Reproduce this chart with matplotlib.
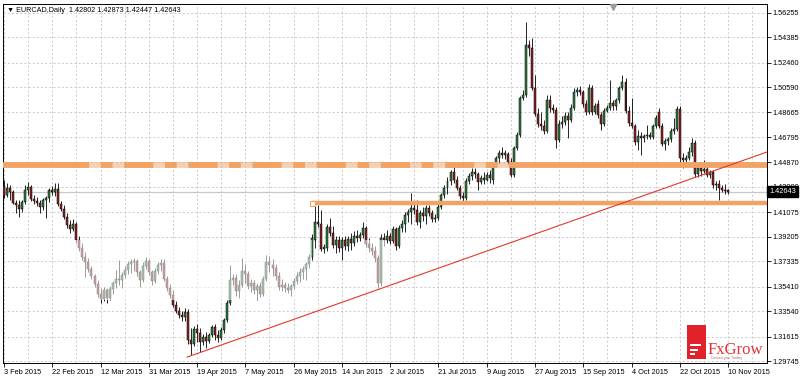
import numpy as np
import matplotlib
matplotlib.use("Agg")
import matplotlib.pyplot as plt
from matplotlib.ticker import MultipleLocator, FixedLocator
from matplotlib.patches import Rectangle

plt.rcParams["font.family"] = ["Liberation Sans", "DejaVu Sans"]

# EURCAD daily bars, 3 Feb 2015 .. 10 Nov 2015
opens = [
    1.4306, 1.4238, 1.4291, 1.4261, 1.4177, 1.4162, 1.4132, 1.4185, 1.4276, 1.4299,
    1.4208, 1.4192, 1.4177, 1.4147, 1.4200, 1.4215, 1.4276, 1.4261, 1.4284, 1.4170,
    1.4132, 1.4071, 1.4010, 1.3980, 1.4018, 1.3896, 1.3835, 1.3767, 1.3728, 1.3675,
    1.3621, 1.3561, 1.3485, 1.3447, 1.3515, 1.3454, 1.3523, 1.3568, 1.3599, 1.3591,
    1.3629, 1.3667, 1.3713, 1.3728, 1.3736, 1.3652, 1.3591, 1.3697, 1.3736, 1.3652,
    1.3583, 1.3659, 1.3705, 1.3721, 1.3599, 1.3530, 1.3477, 1.3401, 1.3355, 1.3325,
    1.3310, 1.3348, 1.3135, 1.3105, 1.3218, 1.3188, 1.3120, 1.3158, 1.3127, 1.3173,
    1.3234, 1.3173, 1.3150, 1.3211, 1.3287, 1.3416, 1.3591, 1.3606, 1.3507, 1.3553,
    1.3659, 1.3637, 1.3545, 1.3568, 1.3515, 1.3545, 1.3485, 1.3599, 1.3728, 1.3705,
    1.3682, 1.3621, 1.3538, 1.3553, 1.3530, 1.3515, 1.3545, 1.3583, 1.3621, 1.3652,
    1.3675, 1.3713, 1.3767, 1.3896, 1.4033, 1.4018, 1.3828, 1.3835, 1.3995, 1.3949,
    1.3858, 1.3896, 1.3835, 1.3896, 1.3850, 1.3903, 1.3873, 1.3926, 1.3911, 1.3934,
    1.3987, 1.3866, 1.3835, 1.3812, 1.3759, 1.3568, 1.3911, 1.3896, 1.3926, 1.3888,
    1.3980, 1.3850, 1.3987, 1.4018, 1.4086, 1.4109, 1.4139, 1.4124, 1.4033, 1.4101,
    1.4078, 1.4139, 1.4101, 1.4056, 1.4063, 1.4147, 1.4238, 1.4291, 1.4344, 1.4413,
    1.4352, 1.4291, 1.4230, 1.4215, 1.4344, 1.4382, 1.4413, 1.4398, 1.4337, 1.4367,
    1.4352, 1.4390, 1.4352, 1.4466, 1.4520, 1.4558, 1.4543, 1.4550, 1.4489, 1.4390,
    1.4596, 1.4695, 1.4976, 1.4999, 1.5380, 1.5357, 1.5052, 1.4855, 1.4779, 1.4763,
    1.4726, 1.4961, 1.4900, 1.4885, 1.4657, 1.4779, 1.4794, 1.4839, 1.4809, 1.4900,
    1.5022, 1.5037, 1.5022, 1.4931, 1.4870, 1.5052, 1.4870, 1.4931, 1.4847, 1.4779,
    1.4877, 1.4900, 1.4938, 1.4915, 1.4961, 1.5052, 1.5098, 1.4877, 1.4786, 1.4763,
    1.4642, 1.4687, 1.4672, 1.4687, 1.4695, 1.4680, 1.4763, 1.4870, 1.4763, 1.4626,
    1.4649, 1.4664, 1.4725, 1.4740, 1.4893, 1.4520, 1.4504, 1.4520, 1.4566, 1.4634,
    1.4398, 1.4443, 1.4420, 1.4436, 1.4390, 1.4413, 1.4314, 1.4322, 1.4291, 1.4276,
    1.42802,
]
highs = [
    1.4352, 1.4329, 1.4314, 1.4276, 1.4200, 1.4200, 1.4200, 1.4314, 1.4337, 1.4314,
    1.4238, 1.4223, 1.4200, 1.4215, 1.4230, 1.4291, 1.4306, 1.4329, 1.4329, 1.4192,
    1.4162, 1.4101, 1.4048, 1.4056, 1.4033, 1.3926, 1.3873, 1.3805, 1.3759, 1.3697,
    1.3637, 1.3591, 1.3530, 1.3538, 1.3530, 1.3545, 1.3583, 1.3667, 1.3743, 1.3652,
    1.3697, 1.3736, 1.3751, 1.3759, 1.3751, 1.3667, 1.3728, 1.3767, 1.3751, 1.3667,
    1.3682, 1.3728, 1.3751, 1.3751, 1.3621, 1.3561, 1.3515, 1.3431, 1.3386, 1.3355,
    1.3378, 1.3371, 1.3226, 1.3241, 1.3257, 1.3226, 1.3181, 1.3196, 1.3188, 1.3249,
    1.3257, 1.3211, 1.3234, 1.3302, 1.3439, 1.3705, 1.3637, 1.3637, 1.3591, 1.3759,
    1.3713, 1.3659, 1.3599, 1.3591, 1.3568, 1.3576, 1.3621, 1.3782, 1.3774, 1.3751,
    1.3713, 1.3652, 1.3599, 1.3576, 1.3568, 1.3561, 1.3606, 1.3652, 1.3682, 1.3697,
    1.3728, 1.3790, 1.3942, 1.4177, 1.4162, 1.4124, 1.3866, 1.4018, 1.4063, 1.4002,
    1.3926, 1.3926, 1.3918, 1.3926, 1.3926, 1.3949, 1.3964, 1.3972, 1.3957, 1.4033,
    1.4002, 1.3911, 1.3873, 1.3850, 1.3782, 1.3942, 1.3949, 1.3972, 1.3949, 1.4002,
    1.3995, 1.4010, 1.4048, 1.4109, 1.4132, 1.4253, 1.4177, 1.4200, 1.4124, 1.4147,
    1.4162, 1.4162, 1.4124, 1.4094, 1.4170, 1.4253, 1.4314, 1.4375, 1.4428, 1.4466,
    1.4382, 1.4314, 1.4261, 1.4367, 1.4405, 1.4443, 1.4443, 1.4413, 1.4390, 1.4413,
    1.4413, 1.4428, 1.4489, 1.4535, 1.4581, 1.4604, 1.4581, 1.4566, 1.4520, 1.4611,
    1.4718, 1.4991, 1.5037, 1.5555, 1.5418, 1.5433, 1.5151, 1.4900, 1.4870, 1.4809,
    1.4999, 1.4999, 1.4931, 1.4908, 1.4809, 1.4839, 1.4870, 1.4870, 1.4931, 1.5052,
    1.5060, 1.5067, 1.5037, 1.4961, 1.5082, 1.5075, 1.4938, 1.4961, 1.4870, 1.4900,
    1.4923, 1.5113, 1.4961, 1.4976, 1.5067, 1.5151, 1.5128, 1.4915, 1.4976, 1.4779,
    1.4733, 1.4718, 1.4703, 1.4771, 1.4718, 1.4779, 1.4847, 1.4900, 1.4786, 1.4672,
    1.4680, 1.4748, 1.4824, 1.4915, 1.4915, 1.4558, 1.4543, 1.4604, 1.4672, 1.4657,
    1.4474, 1.4466, 1.4504, 1.4466, 1.4428, 1.4428, 1.4344, 1.4352, 1.4314, 1.4322,
    1.42873,
]
lows = [
    1.4215, 1.4223, 1.4200, 1.4170, 1.4101, 1.4071, 1.4109, 1.4170, 1.4238, 1.4192,
    1.4170, 1.4154, 1.4101, 1.4124, 1.4063, 1.4185, 1.4238, 1.4230, 1.4154, 1.4116,
    1.4056, 1.3987, 1.3949, 1.3964, 1.3873, 1.3812, 1.3743, 1.3614, 1.3652, 1.3599,
    1.3538, 1.3462, 1.3416, 1.3431, 1.3416, 1.3439, 1.3485, 1.3530, 1.3553, 1.3530,
    1.3606, 1.3637, 1.3644, 1.3659, 1.3621, 1.3538, 1.3576, 1.3675, 1.3629, 1.3553,
    1.3568, 1.3637, 1.3659, 1.3583, 1.3507, 1.3454, 1.3386, 1.3340, 1.3302, 1.3279,
    1.3279, 1.3105, 1.3020, 1.3090, 1.3120, 1.3043, 1.3097, 1.3074, 1.3112, 1.3158,
    1.3135, 1.3120, 1.3135, 1.3188, 1.3272, 1.3401, 1.3553, 1.3469, 1.3454, 1.3538,
    1.3568, 1.3523, 1.3500, 1.3485, 1.3439, 1.3462, 1.3469, 1.3583, 1.3652, 1.3621,
    1.3591, 1.3515, 1.3507, 1.3500, 1.3492, 1.3469, 1.3523, 1.3561, 1.3576, 1.3599,
    1.3591, 1.3682, 1.3743, 1.3835, 1.3995, 1.3812, 1.3797, 1.3812, 1.3926, 1.3835,
    1.3797, 1.3805, 1.3743, 1.3820, 1.3812, 1.3820, 1.3850, 1.3880, 1.3888, 1.3911,
    1.3843, 1.3805, 1.3782, 1.3728, 1.3530, 1.3545, 1.3850, 1.3873, 1.3866, 1.3873,
    1.3820, 1.3835, 1.3957, 1.3957, 1.4033, 1.4018, 1.4094, 1.4010, 1.3987, 1.4040,
    1.4018, 1.4078, 1.4033, 1.4033, 1.4048, 1.4132, 1.4215, 1.4246, 1.4314, 1.4329,
    1.4276, 1.4208, 1.4177, 1.4200, 1.4322, 1.4352, 1.4367, 1.4276, 1.4322, 1.4322,
    1.4344, 1.4329, 1.4322, 1.4451, 1.4482, 1.4520, 1.4512, 1.4474, 1.4375, 1.4375,
    1.4581, 1.4680, 1.4961, 1.4984, 1.5296, 1.5037, 1.4839, 1.4756, 1.4733, 1.4703,
    1.4710, 1.4870, 1.4862, 1.4596, 1.4642, 1.4748, 1.4771, 1.4672, 1.4794, 1.4885,
    1.4991, 1.4999, 1.4908, 1.4847, 1.4855, 1.4847, 1.4855, 1.4824, 1.4733, 1.4763,
    1.4870, 1.4885, 1.4885, 1.4885, 1.4938, 1.5037, 1.4862, 1.4763, 1.4748, 1.4619,
    1.4581, 1.4543, 1.4642, 1.4664, 1.4664, 1.4664, 1.4748, 1.4748, 1.4611, 1.4581,
    1.4619, 1.4642, 1.4703, 1.4725, 1.4482, 1.4443, 1.4482, 1.4504, 1.4535, 1.4375,
    1.4375, 1.4382, 1.4405, 1.4375, 1.4367, 1.4291, 1.4276, 1.4200, 1.4261, 1.4246,
    1.42447,
]
closes = [
    1.4230, 1.4291, 1.4261, 1.4177, 1.4162, 1.4132, 1.4185, 1.4276, 1.4299, 1.4208,
    1.4192, 1.4177, 1.4147, 1.4200, 1.4215, 1.4276, 1.4261, 1.4284, 1.4170, 1.4132,
    1.4071, 1.4010, 1.3980, 1.4018, 1.3896, 1.3835, 1.3767, 1.3728, 1.3675, 1.3621,
    1.3561, 1.3485, 1.3447, 1.3515, 1.3454, 1.3523, 1.3568, 1.3599, 1.3591, 1.3629,
    1.3667, 1.3713, 1.3728, 1.3736, 1.3652, 1.3591, 1.3697, 1.3736, 1.3652, 1.3583,
    1.3659, 1.3705, 1.3721, 1.3599, 1.3530, 1.3477, 1.3401, 1.3355, 1.3325, 1.3310,
    1.3348, 1.3135, 1.3105, 1.3218, 1.3188, 1.3120, 1.3158, 1.3127, 1.3173, 1.3234,
    1.3173, 1.3150, 1.3211, 1.3287, 1.3416, 1.3591, 1.3606, 1.3507, 1.3553, 1.3659,
    1.3637, 1.3545, 1.3568, 1.3515, 1.3545, 1.3485, 1.3599, 1.3728, 1.3705, 1.3682,
    1.3621, 1.3538, 1.3553, 1.3530, 1.3515, 1.3545, 1.3583, 1.3621, 1.3652, 1.3675,
    1.3713, 1.3767, 1.3911, 1.4033, 1.4018, 1.3828, 1.3843, 1.3995, 1.3949, 1.3858,
    1.3896, 1.3835, 1.3896, 1.3850, 1.3903, 1.3873, 1.3926, 1.3911, 1.3934, 1.3987,
    1.3866, 1.3835, 1.3812, 1.3759, 1.3568, 1.3911, 1.3896, 1.3926, 1.3888, 1.3980,
    1.3850, 1.3987, 1.4018, 1.4086, 1.4109, 1.4139, 1.4124, 1.4033, 1.4101, 1.4078,
    1.4139, 1.4101, 1.4056, 1.4063, 1.4147, 1.4238, 1.4291, 1.4344, 1.4413, 1.4352,
    1.4291, 1.4230, 1.4215, 1.4344, 1.4382, 1.4413, 1.4398, 1.4337, 1.4367, 1.4352,
    1.4390, 1.4367, 1.4466, 1.4520, 1.4558, 1.4543, 1.4558, 1.4489, 1.4390, 1.4596,
    1.4695, 1.4976, 1.4999, 1.5380, 1.5357, 1.5052, 1.4855, 1.4779, 1.4763, 1.4726,
    1.4961, 1.4900, 1.4885, 1.4657, 1.4779, 1.4794, 1.4839, 1.4809, 1.4900, 1.5022,
    1.5037, 1.5022, 1.4931, 1.4870, 1.5052, 1.4870, 1.4915, 1.4847, 1.4779, 1.4877,
    1.4900, 1.4938, 1.4915, 1.4961, 1.5052, 1.5098, 1.4877, 1.4786, 1.4763, 1.4642,
    1.4687, 1.4672, 1.4687, 1.4695, 1.4680, 1.4763, 1.4824, 1.4763, 1.4626, 1.4649,
    1.4664, 1.4725, 1.4740, 1.4893, 1.4520, 1.4504, 1.4520, 1.4566, 1.4634, 1.4398,
    1.4443, 1.4420, 1.4436, 1.4390, 1.4413, 1.4314, 1.4322, 1.4291, 1.4276, 1.4268,
    1.42643,
]

date_labels = ["3 Feb 2015", "22 Feb 2015", "12 Mar 2015", "31 Mar 2015", "19 Apr 2015",
               "7 May 2015", "26 May 2015", "14 Jun 2015", "2 Jul 2015", "21 Jul 2015",
               "9 Aug 2015", "27 Aug 2015", "15 Sep 2015", "4 Oct 2015", "22 Oct 2015",
               "10 Nov 2015"]
price_ticks = [1.56255, 1.54385, 1.52460, 1.50590, 1.48665, 1.46795, 1.44870, 1.43000,
               1.41075, 1.39205, 1.37335, 1.35410, 1.33540, 1.31615, 1.29745]

# drawn objects: resistance / support levels and the rising trendline
resistance = 1.4470
support = 1.4177
support_start = 102
trend_start = (60.7, 1.3005)
trend_end = (252.9, 1.4566)

bars_per_label = 16

o = np.array(opens)
h = np.array(highs)
l = np.array(lows)
c = np.array(closes)
idx = np.arange(len(c))

fig = plt.figure(figsize=(8, 3.77), dpi=100)
ax = fig.add_axes([3 / 800, 1 - 363 / 377, 764 / 800, 359 / 377])
ax.set_xlim(-0.33, 252.9)
ax.set_ylim(1.2960, 1.5692)

grid_kw = dict(color="#c4c4c4", linestyle=(0, (2.5, 2.5)), linewidth=0.6)
ax.xaxis.set_major_locator(FixedLocator(np.arange(0, len(c), bars_per_label)))
ax.xaxis.set_minor_locator(MultipleLocator(8))
ax.grid(True, which="both", axis="x", **grid_kw)
ax.set_yticks(price_ticks)
ax.set_yticklabels(["%.5f" % p for p in price_ticks])
ax.grid(True, which="major", axis="y", **grid_kw)
ax.set_axisbelow(True)

# candles
bull, bear = "#2f7a3c", "#8c2424"
up = c >= o
ax.vlines(idx, l, h, color="black", linewidth=0.6, zorder=2)
ax.bar(idx[up], (c - o)[up], bottom=o[up], width=0.66, color=bull,
       edgecolor="black", linewidth=0.35, zorder=3)
ax.bar(idx[~up], (c - o)[~up], bottom=o[~up], width=0.66, color=bear,
       edgecolor="black", linewidth=0.35, zorder=3)

# faded watermark area over part of the candles
ax.add_patch(Rectangle((23, 1.3439), 79, 0.0457, facecolor="white", alpha=0.55,
                       edgecolor="none", zorder=4))
ax.add_patch(Rectangle((119.5, 1.3515), 7, 0.0381, facecolor="white", alpha=0.55,
                       edgecolor="none", zorder=4))

# current price line
ax.axhline(closes[-1], color="#c8c8c8", linewidth=0.9, zorder=1.5)

# levels
orange = "#f0a365"
ax.plot([-1, 18.6], [resistance] * 2, color=orange, linewidth=4.2, zorder=5,
        solid_capstyle="butt")
ax.plot([18.6, 168], [resistance] * 2, color=orange, linewidth=4.2, alpha=0.5,
        zorder=5, solid_capstyle="butt")
ax.plot([18.6, 168], [resistance] * 2, color=orange, linewidth=4.2, zorder=5,
        linestyle=(0, (5, 2, 2, 2)))
ax.plot([168, 260], [resistance] * 2, color=orange, linewidth=4.2, zorder=5,
        solid_capstyle="butt")
ax.plot([support_start, 260], [support] * 2, color=orange, linewidth=3.2, zorder=5,
        solid_capstyle="butt")
ax.plot([support_start], [support], marker="s", ms=3.6, mfc="white", mec=orange,
        mew=0.8, zorder=6)

# trendline
ax.plot([trend_start[0], trend_end[0]], [trend_start[1], trend_end[1]],
        color="#e2382c", linewidth=0.8, zorder=6)

# axes styling
for s in ax.spines.values():
    s.set_linewidth(0.7)
    s.set_color("black")
ax.yaxis.tick_right()
ax.tick_params(axis="y", which="major", length=3, width=0.6, pad=1, labelsize=5.3)
ax.tick_params(axis="x", which="major", length=3, width=0.6, pad=1.5, labelsize=5.3)
ax.tick_params(axis="x", which="minor", length=0)
ax.set_xticklabels(date_labels)
for lab in ax.get_xticklabels():
    lab.set_horizontalalignment("left")

# header text
ax.text(0.005, 0.982, "\u25bc EURCAD,Daily  %.5f %.5f %.5f %.5f" % (opens[-1], highs[-1], lows[-1], closes[-1]),
        transform=ax.transAxes, fontsize=5.2, color="black", va="center", ha="left")

# price box on the axis
ax.text(1.003, closes[-1], "%.5f" % closes[-1], transform=ax.get_yaxis_transform(),
        ha="left", va="center", fontsize=5.3, color="white", zorder=10, clip_on=False,
        bbox=dict(boxstyle="square,pad=0.3", facecolor="black", edgecolor="black"))

# chart-shift marker
ax.plot(0.798, 0.992, marker="v", color="#9c9c9c", ms=4, transform=ax.transAxes,
        clip_on=False, zorder=10)

# FxGrow logo
fig.patches.append(Rectangle((687 / 800, 1 - 359 / 377), 19 / 800, 34 / 377,
                             transform=fig.transFigure, facecolor="#e2222a",
                             edgecolor="none", zorder=10))
for y0, w in [(344, 11), (348.5, 8), (353, 5)]:
    fig.patches.append(Rectangle((690 / 800, 1 - (y0 + 2) / 377), w / 800, 2 / 377,
                                 transform=fig.transFigure, facecolor="white",
                                 edgecolor="none", zorder=11))
fig.text(708 / 800, 1 - 354 / 377, "FxGrow", fontsize=12, color="#e0353a",
         family="Liberation Serif", ha="left", va="baseline", zorder=11)
fig.text(711 / 800, 1 - 359.5 / 377, "Connect your Trading", fontsize=2.3,
         color="#c06060", ha="left", va="baseline", zorder=11)

fig.savefig("out.png", dpi=100, facecolor="white")
